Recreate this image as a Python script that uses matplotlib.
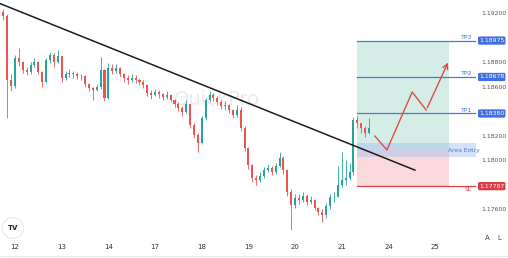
import matplotlib
matplotlib.use("Agg")
import matplotlib.pyplot as plt
from matplotlib.patches import Rectangle, FancyBboxPatch, Ellipse
import numpy as np

# ---- data (2-hour candles, index 0 = start of day 12) ----
first_open = 1.19150
closes = [1.19210, 1.19175, 1.18653, 1.18604,
          1.18832, 1.18800, 1.18734, 1.18718, 1.18775, 1.18800, 1.18720, 1.18636, 1.18816, 1.18857, 1.18800, 1.18849,
          1.18669, 1.18702, 1.18710, 1.18700, 1.18685, 1.18685, 1.18620, 1.18588, 1.18571, 1.18596, 1.18734, 1.18506,
          1.18751, 1.18730, 1.18751, 1.18700, 1.18669, 1.18653, 1.18669, 1.18653, 1.18636, 1.18612, 1.18547, 1.18530,
          1.18555, 1.18539, 1.18514, 1.18530, 1.18490, 1.18457, 1.18424, 1.18392, 1.18457, 1.18286, 1.18204, 1.18139,
          1.18343, 1.18490, 1.18530, 1.18506, 1.18473, 1.18441, 1.18449, 1.18408, 1.18367, 1.18410, 1.18261, 1.18098,
          1.17959, 1.17853, 1.17837, 1.17869, 1.17918, 1.17935, 1.17902, 1.17950, 1.18016, 1.17918, 1.17739, 1.17633,
          1.17690, 1.17674, 1.17706, 1.17657, 1.17674, 1.17608, 1.17576, 1.17551, 1.17625, 1.17698, 1.17698, 1.17796,
          1.17837, 1.17853, 1.17902, 1.18326, 1.18302, 1.18261, 1.18220, 1.18261]
highs = [1.19240, 1.19230, 1.19190, 1.18700,
         1.18860, 1.18914, 1.18810, 1.18760, 1.18800, 1.18830, 1.18810, 1.18730, 1.18830, 1.18880, 1.18870, 1.18898,
         1.18850, 1.18730, 1.18740, 1.18730, 1.18720, 1.18700, 1.18690, 1.18630, 1.18600, 1.18620, 1.18840, 1.18740,
         1.18790, 1.18780, 1.18780, 1.18760, 1.18710, 1.18690, 1.18700, 1.18690, 1.18670, 1.18650, 1.18620, 1.18570,
         1.18580, 1.18570, 1.18550, 1.18560, 1.18540, 1.18500, 1.18470, 1.18440, 1.18490, 1.18460, 1.18300, 1.18220,
         1.18360, 1.18510, 1.18560, 1.18550, 1.18520, 1.18490, 1.18480, 1.18460, 1.18420, 1.18450, 1.18430, 1.18280,
         1.18110, 1.17970, 1.17880, 1.17900, 1.17940, 1.17970, 1.17950, 1.17980, 1.18065, 1.18030, 1.17930, 1.17760,
         1.17720, 1.17720, 1.17740, 1.17720, 1.17710, 1.17680, 1.17620, 1.17600, 1.17650, 1.17720, 1.17740, 1.17950,
         1.18065, 1.18000, 1.17980, 1.18350, 1.18360, 1.18300, 1.18280, 1.18343]
lows = [1.19120, 1.19140, 1.18343, 1.18560,
        1.18590, 1.18770, 1.18710, 1.18690, 1.18700, 1.18760, 1.18700, 1.18596, 1.18630, 1.18790, 1.18760, 1.18790,
        1.18640, 1.18650, 1.18680, 1.18670, 1.18660, 1.18650, 1.18600, 1.18560, 1.18490, 1.18560, 1.18580, 1.18480,
        1.18500, 1.18700, 1.18710, 1.18680, 1.18640, 1.18620, 1.18640, 1.18630, 1.18610, 1.18590, 1.18520, 1.18500,
        1.18520, 1.18510, 1.18490, 1.18500, 1.18470, 1.18430, 1.18400, 1.18360, 1.18380, 1.18260, 1.18180, 1.18065,
        1.18130, 1.18330, 1.18470, 1.18480, 1.18450, 1.18420, 1.18410, 1.18380, 1.18340, 1.18350, 1.18240, 1.18070,
        1.17930, 1.17820, 1.17800, 1.17820, 1.17850, 1.17900, 1.17880, 1.17890, 1.17940, 1.17890, 1.17710, 1.17429,
        1.17610, 1.17640, 1.17660, 1.17630, 1.17640, 1.17590, 1.17550, 1.17494, 1.17530, 1.17600, 1.17660, 1.17700,
        1.17780, 1.17800, 1.17840, 1.17880, 1.18260, 1.18220, 1.18190, 1.18210]
start_index = -4

day_ticks = [0, 12, 24, 36, 48, 60, 72, 84, 96, 108]
day_labels = ['12', '13', '14', '17', '18', '19', '20', '21', '24', '25']
price_ticks = [1.19200, 1.18800, 1.18600, 1.18200, 1.18000, 1.17600]

trend_x = [-3.86, 102.8]
trend_y = [1.19277, 1.17918]

arrow_x = [92.5, 95.6, 102.1, 105.7, 111.6]
arrow_y = [1.18196, 1.18082, 1.18555, 1.18408, 1.18816]

tp_names = ['TP3', 'TP2', 'TP1']
tp_levels = [1.18975, 1.18678, 1.18380]
sl_level = 1.17787
entry_level = 1.18080
entry_zone = [1.18024, 1.18139]
box_x = [87.9, 111.6]
line_end = 119.0

# ---- figure ----
W, H = 508, 258
fig = plt.figure(figsize=(W / 100, H / 100), dpi=100)
ax = fig.add_axes([0, 0.0775, 0.937, 0.9225])
ax.set_xlim(-3.86, 118.5)
ax.set_ylim(1.17364, 1.19306)

GREEN = '#26a69a'
RED = '#ef5350'

# position boxes
ax.add_patch(Rectangle((box_x[0], entry_level), box_x[1] - box_x[0], tp_levels[0] - entry_level,
                       facecolor='#d4ede6', edgecolor='none', zorder=1))
ax.add_patch(Rectangle((box_x[0], sl_level), box_x[1] - box_x[0], entry_level - sl_level,
                       facecolor='#fad9dc', edgecolor='none', zorder=1))
ax.add_patch(Rectangle((box_x[0], entry_zone[0]), line_end - box_x[0], entry_zone[1] - entry_zone[0],
                       facecolor='#9fc0f0', alpha=0.45, edgecolor='none', zorder=1.5))

# candles
opens = [first_open] + closes[:-1]
xs = np.arange(start_index, start_index + len(closes))
for x, o, c, h, l in zip(xs, opens, closes, highs, lows):
    col = GREEN if c >= o else RED
    ax.vlines(x, l, h, color=col, linewidth=0.6, zorder=3)
    body = max(abs(c - o), 0.000015)
    ax.add_patch(Rectangle((x - 0.26, min(o, c)), 0.52, body, facecolor=col, edgecolor='none', zorder=3))

# trend line
ax.plot(trend_x, trend_y, color='#1c1c1c', linewidth=1.1, zorder=4)

# TP / SL lines
for name, lvl in zip(tp_names, tp_levels):
    ax.plot([box_x[0], line_end], [lvl, lvl], color='#4a78d6', linewidth=0.9, zorder=4)
    ax.text(117.5, lvl + 0.00006, name, color='#4a78d6', fontsize=4.5, ha='right', va='bottom', zorder=5)
ax.plot([box_x[0], line_end], [sl_level, sl_level], color='#e0404a', linewidth=0.9, zorder=4)
ax.text(117.5, sl_level - 0.00006, 'SL', color='#e0404a', fontsize=4.5, ha='right', va='top', zorder=5)
ax.text((box_x[1] + line_end) / 2, (entry_zone[0] + entry_zone[1]) / 2, 'Area Entry', color='#4a78d6',
        fontsize=4.3, ha='center', va='center', zorder=5)

# forecast arrow
ax.plot(arrow_x[:-1], arrow_y[:-1], color='#e04a4a', linewidth=1.0, zorder=5)
ax.annotate('', xy=(arrow_x[-1], arrow_y[-1]), xytext=(arrow_x[-2], arrow_y[-2]),
            arrowprops=dict(arrowstyle='->', color='#e04a4a', lw=1.0, mutation_scale=9), zorder=5)

# watermark
ax.text(0.455, 0.585, 'QuickPro', color='#ebebeb', fontsize=14, ha='center', va='center',
        transform=ax.transAxes, zorder=0.5)

# axes styling
for s in ax.spines.values():
    s.set_visible(False)
ax.set_xticks(day_ticks)
ax.set_xticklabels(day_labels)
ax.tick_params(axis='x', length=0, labelsize=5, colors='#333333', pad=4)
ax.yaxis.tick_right()
ax.set_yticks(price_ticks)
ax.set_yticklabels([f'{p:.5f}' for p in price_ticks])
ax.tick_params(axis='y', length=0, labelsize=4.4, colors='#555555', pad=4)

# price badges
def badge(y, text, color):
    yy = ax.transData.transform((0, y))[1]
    fy = yy / fig.bbox.height
    fig.patches.append(FancyBboxPatch((0.941, fy - 0.016), 0.054, 0.032, boxstyle='round,pad=0,rounding_size=0.004',
                                      transform=fig.transFigure, facecolor=color, edgecolor='none'))
    fig.text(0.968, fy, text, color='white', fontsize=4.4, ha='center', va='center')

for lvl in tp_levels:
    badge(lvl, f'{lvl:.5f}', '#3f6fe0')
badge(sl_level, f'{sl_level:.5f}', '#e03a44')

# logo and A/L
fig.patches.append(Ellipse((13 / W, 1 - 228 / H), 21 / W, 21 / H, transform=fig.transFigure, facecolor='white',
                           edgecolor='#e2e2e2', linewidth=0.6))
fig.text(13 / W, 1 - 228 / H, 'TV', fontsize=5, fontweight='bold', color='#222222', ha='center', va='center')
fig.text(0.959, 0.078, 'A', fontsize=5, color='#444444', ha='center', va='center')
fig.text(0.983, 0.078, 'L', fontsize=5, color='#444444', ha='center', va='center')

fig.add_artist(plt.Line2D([0, 1], [0.006, 0.006], color='#e4e4e4', linewidth=0.6, transform=fig.transFigure))

fig.savefig('out.png', dpi=100)
